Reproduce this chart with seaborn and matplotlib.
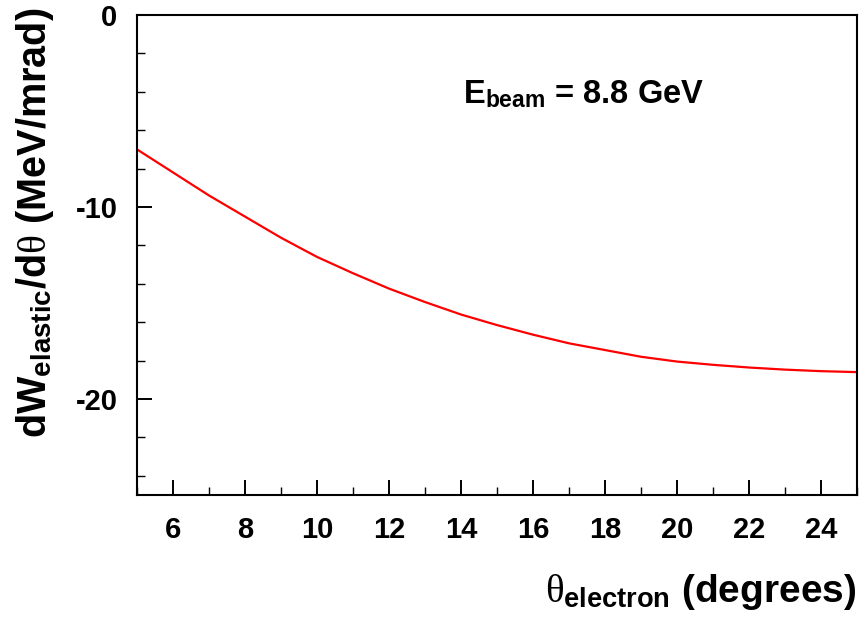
import matplotlib
matplotlib.use("Agg")
import matplotlib.pyplot as plt
import seaborn as sns
import pandas as pd
from matplotlib.ticker import MultipleLocator

# Data
theta_deg = [5, 6, 7, 8, 9, 10, 11, 12, 13, 14, 15, 16, 17, 18, 19, 20, 21, 22, 23, 24, 25]
dw_dtheta = [-7.0, -8.2, -9.4, -10.5, -11.6, -12.6, -13.45, -14.25, -14.95, -15.6,
             -16.15, -16.65, -17.1, -17.45, -17.8, -18.05, -18.22, -18.36, -18.47, -18.55, -18.6]
x_ticks = [6, 8, 10, 12, 14, 16, 18, 20, 22, 24]
y_ticks = [0, -10, -20]

sns.set_style("ticks")
plt.rcParams['font.family'] = ['Liberation Sans', 'DejaVu Sans']
plt.rcParams['font.weight'] = 'bold'
plt.rcParams['text.color'] = 'black'
plt.rcParams['axes.labelcolor'] = 'black'
plt.rcParams['xtick.color'] = 'black'
plt.rcParams['ytick.color'] = 'black'
plt.rcParams['axes.unicode_minus'] = False
plt.rcParams['mathtext.fontset'] = 'custom'
plt.rcParams['mathtext.rm'] = 'Liberation Sans:weight=bold'
plt.rcParams['mathtext.it'] = 'Liberation Serif:weight=normal:style=normal'
plt.rcParams['mathtext.bf'] = 'Liberation Sans:weight=bold'
plt.rcParams['mathtext.sf'] = 'Liberation Sans:weight=bold'

df = pd.DataFrame({"theta": theta_deg, "dw": dw_dtheta})

fig = plt.figure(figsize=(8.6, 6.24), dpi=100)
ax = fig.add_axes([137/860, 1 - 495/624, 720/860, 480/624])

sns.lineplot(data=df, x="theta", y="dw", color="red", linewidth=1.6, ax=ax)

ax.set_xlim(5, 25)
ax.set_ylim(-25, 0)
ax.set_xticks(x_ticks)
ax.set_yticks(y_ticks)
ax.xaxis.set_minor_locator(MultipleLocator(1))
ax.yaxis.set_minor_locator(MultipleLocator(2))

for s in ax.spines.values():
    s.set_linewidth(1.5)
    s.set_color("black")

ax.tick_params(axis='both', which='major', direction='in', length=11, width=1.4,
               labelsize=21, top=False, right=False, colors='black')
ax.tick_params(axis='both', which='minor', direction='in', length=5.5, width=1.0,
               top=False, right=False, colors='black')
ax.tick_params(axis='x', which='major', pad=15)
ax.tick_params(axis='y', which='major', pad=14)
for lab in ax.get_xticklabels() + ax.get_yticklabels():
    lab.set_fontweight('bold')

ax.set_xlabel(r"$\theta_{\mathrm{electron}}$ (degrees)", fontsize=28, fontweight='bold',
              loc='right', color='black')
ax.xaxis.set_label_coords(0.999, -0.16)
ax.set_ylabel(r"dW$_{\mathrm{elastic}}$/d$\theta$ (MeV/mrad)", fontsize=28.5,
              fontweight='bold', color='black')
ax.yaxis.set_label_coords(-0.112, 0.567)

ax.text(0.453, 0.8167, r"E$_{\mathrm{beam}}$ = 8.8 GeV", transform=ax.transAxes,
        fontsize=23.5, fontweight='bold', ha='left', va='baseline', color='black')

fig.savefig("out.png", dpi=100)
